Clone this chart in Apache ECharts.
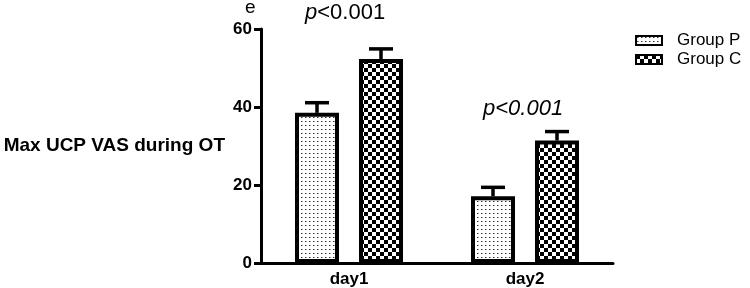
<!DOCTYPE html>
<html>
<head>
<meta charset="utf-8">
<script src="https://cdn.jsdelivr.net/npm/echarts@6/dist/echarts.min.js"></script>
<style>
  html, body { margin: 0; padding: 0; background: #fff; }
  #main { width: 750px; height: 288px; }
</style>
</head>
<body>
<div id="main"></div>
<script>
// data
var categories = ["day1", "day2"];
var groupP = [38.5, 17.1];
var groupC = [52.3, 31.4];
var errP = [2.6, 2.3];
var errC = [2.6, 2.3];
var yTicks = [0, 20, 40, 60];

var FONT = "Liberation Sans, Arial, sans-serif";

//****************** fill patterns ******************//
function dotPattern() {
  var c = document.createElement("canvas");
  c.width = 4; c.height = 4;
  var ctx = c.getContext("2d");
  ctx.fillStyle = "#fff";
  ctx.fillRect(0, 0, 4, 4);
  ctx.fillStyle = "#333";
  ctx.fillRect(1, 1, 1, 1);
  ctx.fillStyle = "#999";
  ctx.fillRect(2, 1, 1, 1);
  return c;
}

function checkPattern() {
  var c = document.createElement("canvas");
  c.width = 8; c.height = 8;
  var ctx = c.getContext("2d");
  ctx.fillStyle = "#fff";
  ctx.fillRect(0, 0, 8, 8);
  ctx.fillStyle = "#000";
  ctx.fillRect(0, 0, 4, 4);
  ctx.fillRect(4, 4, 4, 4);
  return c;
}

var BAR_W = 44;
var BAR_GAP = 20;
var OFFSETS = [-(BAR_W + BAR_GAP) / 2, (BAR_W + BAR_GAP) / 2];

//****************** error bars ******************//
function errorBar(offset) {
  return function (params, api) {
    var cat = api.value(0);
    var top = api.coord([cat, api.value(1) + api.value(2)]);
    var base = api.coord([cat, api.value(1)]);
    var x = top[0] + offset;
    var half = 12;
    var style = { stroke: "#000", lineWidth: 3.5 };
    return {
      type: "group",
      children: [
        { type: "line", shape: { x1: x, y1: base[1], x2: x, y2: top[1] }, style: style },
        { type: "line", shape: { x1: x - half, y1: top[1], x2: x + half, y2: top[1] }, style: style },
      ],
    };
  };
}

var myChart = echarts.init(document.getElementById("main"), null, { renderer: "canvas" });

var option = {
  animation: false,
  backgroundColor: "#fff",
  textStyle: { fontFamily: FONT, color: "#000" },
  grid: { left: 261, top: 29, right: 137, bottom: 24 },
  legend: {
    orient: "vertical",
    left: 630,
    top: 27,
    itemWidth: 26,
    itemHeight: 9,
    itemGap: 2,
    icon: "rect",
    data: ["Group P", "Group C"],
    textStyle: { fontFamily: FONT, fontSize: 17, color: "#000", padding: [0, 0, 0, 10] },
  },
  xAxis: {
    type: "category",
    data: categories,
    axisLine: { lineStyle: { color: "#000", width: 3 } },
    axisTick: { alignWithLabel: true, length: 6, lineStyle: { color: "#000", width: 2 } },
    axisLabel: { fontFamily: FONT, fontWeight: "bold", fontSize: 17, color: "#000", margin: 8 },
  },
  yAxis: {
    type: "value",
    min: yTicks[0],
    max: yTicks[yTicks.length - 1],
    interval: 20,
    name: "Max UCP VAS during OT",
    nameLocation: "middle",
    nameRotate: 0,
    nameGap: 36,
    nameTextStyle: { fontFamily: FONT, fontWeight: "bold", fontSize: 19, color: "#000", align: "right" },
    splitLine: { show: false },
    axisLine: { show: true, lineStyle: { color: "#000", width: 3 } },
    axisTick: { show: true, length: 7, lineStyle: { color: "#000", width: 3 } },
    axisLabel: { fontFamily: FONT, fontWeight: "bold", fontSize: 17, color: "#000", margin: 9 },
  },
  series: [
    {
      name: "Group P",
      type: "bar",
      data: groupP,
      barWidth: BAR_W,
      barGap: (BAR_GAP / BAR_W) * 100 + "%",
      itemStyle: { color: { image: dotPattern(), repeat: "repeat" }, borderColor: "#000", borderWidth: 4 },
    },
    {
      name: "Group C",
      type: "bar",
      data: groupC,
      barWidth: BAR_W,
      itemStyle: { color: { image: checkPattern(), repeat: "repeat" }, borderColor: "#000", borderWidth: 4 },
    },
    {
      type: "custom",
      renderItem: errorBar(OFFSETS[0]),
      data: categories.map(function (c, i) { return [i, groupP[i], errP[i]]; }),
      z: 1,
      silent: true,
    },
    {
      type: "custom",
      renderItem: errorBar(OFFSETS[1]),
      data: categories.map(function (c, i) { return [i, groupC[i], errC[i]]; }),
      z: 1,
      silent: true,
    },
  ],
  graphic: [
    {
      type: "text",
      left: 245,
      top: -2,
      style: { text: "e", fontFamily: FONT, fontSize: 19, fill: "#000" },
    },
    {
      type: "text",
      left: 305,
      top: 2,
      style: {
        text: "{i|p}{n|<0.001}",
        rich: {
          i: { fontFamily: FONT, fontSize: 22, fontStyle: "italic", fill: "#000" },
          n: { fontFamily: FONT, fontSize: 22, fill: "#000" },
        },
      },
    },
    {
      type: "text",
      left: 483,
      top: 98,
      style: { text: "p<0.001", fontFamily: FONT, fontSize: 22, fontStyle: "italic", fill: "#000" },
    },
  ],
};

myChart.setOption(option);
window.addEventListener("resize", myChart.resize);
</script>
</body>
</html>
